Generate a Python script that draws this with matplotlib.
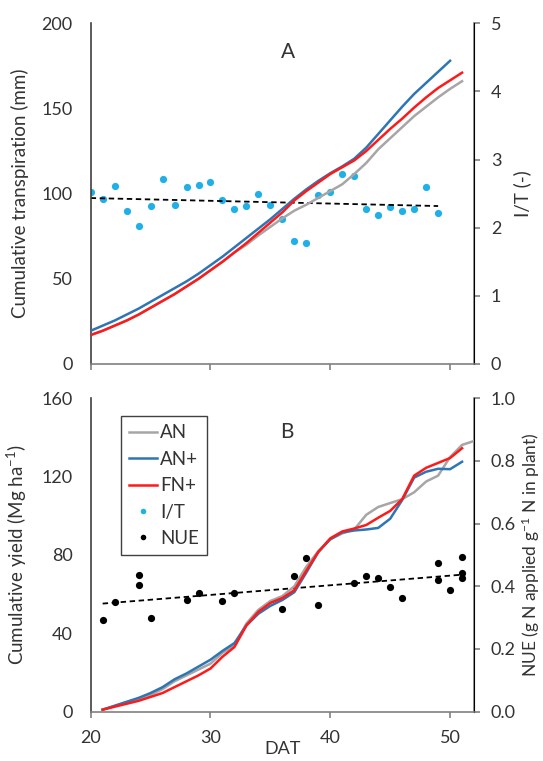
import numpy as np
import matplotlib
matplotlib.use("Agg")
import matplotlib.pyplot as plt
from matplotlib.lines import Line2D

plt.rcParams['font.family'] = ['Lato', 'DejaVu Sans']
plt.rcParams['mathtext.fontset'] = 'custom'
plt.rcParams['mathtext.rm'] = 'Lato'
plt.rcParams['mathtext.it'] = 'Lato:italic'

# ---- data: panel A (cumulative transpiration, mm) ----
dat_an_plus_a = np.arange(20, 51)
transp_an_plus = [19.5, 22.5, 25.5, 29, 32.5, 36.5, 40.5, 44.5, 48.5, 53, 58,
                  63, 68.5, 74, 79.5, 85, 91, 97, 102.5, 107.5, 112,
                  116, 120.5, 127, 135, 143, 151, 158.5, 165, 171.5, 178]
dat_a = np.arange(20, 52)
transp_fn_plus = [17, 19.5, 22.5, 25.5, 29, 33, 37, 41, 45.5, 50, 55,
                  60, 65.5, 71, 77, 83, 89, 96, 101.5, 106.5, 111.5,
                  115.5, 119.5, 125, 131.5, 138, 144, 150.5, 156.5, 162, 166.5, 171]
transp_an = [17, 19.5, 22.5, 25.5, 29, 33, 37, 41, 45.5, 50, 55,
             60, 65.5, 70, 75.5, 80.5, 85.5, 90, 93.5, 97.5, 101.5,
             105.5, 111.5, 118, 126, 132.5, 139, 145.5, 151, 156.5, 161.5, 166]

dat_it = np.arange(20, 50)
it_ratio = [2.53, 2.42, 2.61, 2.24, 2.03, 2.32, 2.71, 2.34, 2.60, 2.63,
            2.67, 2.40, 2.28, 2.32, 2.49, 2.33, 2.13, 1.81, 1.78, 2.48,
            2.53, 2.79, 2.76, 2.28, 2.18, 2.30, 2.25, 2.28, 2.60, 2.21]

# ---- data: panel B (cumulative yield, Mg/ha) ----
dat_b = np.arange(21, 52)
yield_an_plus = [1, 3, 5, 7, 9.5, 12.5, 16.5, 19.5, 23, 26.5, 31, 35, 44, 50,
                 54, 57, 61, 71, 81.5, 88, 91.5, 92.5, 93, 93.8, 98.5, 108,
                 119.5, 122.5, 124, 123.8, 127.6]
yield_fn_plus = [1, 2.5, 4, 5.5, 7.5, 9.5, 12.5, 15.5, 18.5, 22, 28, 33, 44,
                 51, 55.5, 58, 62, 72, 81.5, 88.5, 92, 93.5, 95.3, 99, 102.5,
                 108.5, 120.5, 124.5, 127, 129.5, 134.5]
dat_b_an = np.arange(21, 53)
yield_an = [1, 2.8, 4.8, 6.5, 8.5, 11.5, 15.5, 18.5, 21.5, 24.5, 30, 34, 45,
            52, 56.5, 59, 64, 74, 82, 88, 91, 93, 100.5, 104.5, 106.5, 108.5,
            112, 117.5, 120.5, 130, 136.2, 138.2]

dat_nue = [21, 22, 24, 24, 25, 28, 29, 31, 32, 36, 37, 38, 39, 42, 43, 44,
           45, 46, 49, 49, 50, 51, 51, 51]
nue = [0.292, 0.350, 0.436, 0.404, 0.300, 0.357, 0.377, 0.354, 0.377, 0.327,
       0.433, 0.491, 0.341, 0.412, 0.433, 0.425, 0.397, 0.364, 0.473, 0.421,
       0.389, 0.495, 0.442, 0.425]

c_an = '#a6a6a6'
c_anp = '#2e75b6'
c_fnp = '#ff1a1a'
c_it = '#1fb0e8'
c_ax = '#808080'
c_txt = '#333333'

W, H = 543, 761
fig = plt.figure(figsize=(5.43, 7.61), dpi=100)


def style(ax, ax2):
    ax.spines['top'].set_visible(False)
    ax2.spines['top'].set_visible(False)
    ax.spines['left'].set_color('#404040')
    ax.spines['bottom'].set_color(c_ax)
    ax2.spines['right'].set_color(c_ax)
    ax2.spines['left'].set_visible(False)
    ax2.spines['bottom'].set_visible(False)
    for s in ['left', 'bottom']:
        ax.spines[s].set_linewidth(1.2)
    ax2.spines['right'].set_linewidth(1.2)
    ax.tick_params(axis='y', length=0, pad=13, labelsize=13, colors=c_txt)
    ax.tick_params(axis='x', length=4, width=1.2, color=c_ax, pad=9,
                   labelsize=13, labelcolor=c_txt, direction='out')
    ax2.tick_params(axis='y', length=4, width=1.2, color=c_ax, pad=8,
                    labelsize=13, labelcolor=c_txt, direction='out')


# ---- panel A ----
axa = fig.add_axes([0.167, 0.5217, 0.706, 0.4477])
axa2 = axa.twinx()
axa.plot(dat_a, transp_an, color=c_an, lw=1.8, zorder=3)
axa.plot(dat_an_plus_a, transp_an_plus, color=c_anp, lw=1.8, zorder=4)
axa.plot(dat_a, transp_fn_plus, color=c_fnp, lw=1.8, zorder=5)
axa2.plot(dat_it, it_ratio, 'o', color=c_it, ms=5.2, mec='none')
p = np.polyfit(dat_it, it_ratio, 1)
xt = np.array([dat_it[0], dat_it[-1]])
axa2.plot(xt, np.polyval(p, xt), '--', color='black', lw=1.3, dashes=(3, 2))
axa.set_zorder(axa2.get_zorder() + 1)
axa.patch.set_visible(False)
axa.set_xlim(20, 52)
axa.set_ylim(0, 200)
axa2.set_ylim(0, 5)
axa.set_xticks([20, 30, 40, 50])
axa.set_xticklabels([])
axa.set_yticks([0, 50, 100, 150, 200])
axa2.set_yticks([0, 1, 2, 3, 4, 5])
style(axa, axa2)
axa.set_ylabel('Cumulative transpiration (mm)', fontsize=13.5, color=c_txt, labelpad=9)
axa2.set_ylabel('I/T (-)', fontsize=13.5, color=c_txt, labelpad=9)
fig.text(288 / W, 1 - 52 / H, 'A', fontsize=15, ha='center', va='center', color=c_txt)

# ---- panel B ----
axb = fig.add_axes([0.167, 0.0649, 0.706, 0.4117])
axb2 = axb.twinx()
axb.plot(dat_b_an, yield_an, color=c_an, lw=1.8, zorder=3)
axb.plot(dat_b, yield_an_plus, color=c_anp, lw=1.8, zorder=4)
axb.plot(dat_b, yield_fn_plus, color=c_fnp, lw=1.8, zorder=5)
axb2.plot(dat_nue, nue, 'o', color='black', ms=5.2, mec='none')
q = np.polyfit(dat_nue, nue, 1)
xn = np.array([min(dat_nue), max(dat_nue)])
axb2.plot(xn, np.polyval(q, xn), '--', color='black', lw=1.3, dashes=(3, 2))
axb.set_zorder(axb2.get_zorder() + 1)
axb.patch.set_visible(False)
axb.set_xlim(20, 52)
axb.set_ylim(0, 160)
axb2.set_ylim(0, 1.0)
axb.set_xticks([20, 30, 40, 50])
axb.set_yticks([0, 40, 80, 120, 160])
axb2.set_yticks([0.0, 0.2, 0.4, 0.6, 0.8, 1.0])
axb2.set_yticklabels(['0.0', '0.2', '0.4', '0.6', '0.8', '1.0'])
style(axb, axb2)
axb.set_ylabel('Cumulative yield (Mg ha$^{-1}$)', fontsize=13.5, color=c_txt, labelpad=9)
axb2.set_ylabel('NUE (g N applied g$^{-1}$ N in plant)', fontsize=12.5,
                color=c_txt, labelpad=3)
axb.set_xlabel('DAT', fontsize=13, color=c_txt, labelpad=-3)
fig.text(287 / W, 1 - 432 / H, 'B', fontsize=15, ha='center', va='center', color=c_txt)

handles = [Line2D([], [], color=c_an, lw=1.8),
           Line2D([], [], color=c_anp, lw=1.8),
           Line2D([], [], color=c_fnp, lw=1.8),
           Line2D([], [], marker='o', ls='none', color=c_it, ms=4, mec='none'),
           Line2D([], [], marker='o', ls='none', color='black', ms=4, mec='none')]
leg = axb.legend(handles, ['AN', 'AN+', 'FN+', 'I/T', 'NUE'],
                 loc='upper left', bbox_to_anchor=(120.7 / W, 1 - 416 / H),
                 bbox_transform=fig.transFigure, fancybox=False, framealpha=1,
                 edgecolor='#404040', fontsize=13.5, handlelength=1.5,
                 handletextpad=0.15, labelspacing=0.5, borderpad=0.45,
                 borderaxespad=0)
leg.get_frame().set_linewidth(1.0)
for t in leg.get_texts():
    t.set_color(c_txt)

fig.savefig('out.png', dpi=100)
